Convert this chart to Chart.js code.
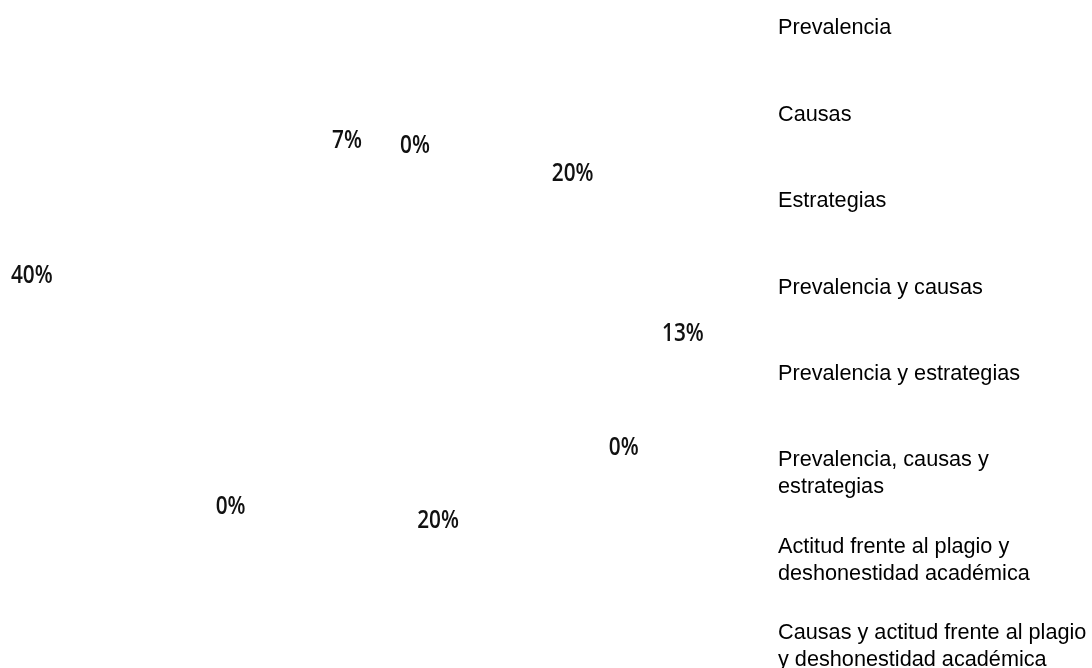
<!DOCTYPE html>
<html>
<head>
<meta charset="utf-8">
<script src="https://cdn.jsdelivr.net/npm/chart.js@4.4.0/dist/chart.umd.min.js"></script>
<style>
  html, body { margin: 0; padding: 0; background: #fff; }
  #wrap { position: relative; width: 1092px; height: 668px; }
</style>
</head>
<body>
<div id="wrap"><canvas id="myChart"></canvas></div>
<script>
const categories = [
    'Prevalencia',
    'Causas',
    'Estrategias',
    'Prevalencia y causas',
    'Prevalencia y estrategias',
    ['Prevalencia, causas y', 'estrategias'],
    ['Actitud frente al plagio y', 'deshonestidad académica'],
    ['Causas y actitud frente al plagio', 'y deshonestidad académica'],
  ];
// number of studies per topic (7%, 0%, 20%, 13%, 0%, 20%, 0%, 40%)
const counts = [1, 0, 3, 2, 0, 3, 0, 6];

// label placement, per slice: radius factor and angle nudge (deg)
const labelSpots = [
    {r: 0.587, a: -21.7},
    {r: 0.575, a: -13.5},
    {r: 0.751, a: -9.8},
    {r: 0.907, a: -30},
    {r: 0.805, a: -29},
    {r: 0.584, a: -17.3},
    {r: 0.683, a: 4.9},
    {r: 1.057, a: -8.5},
  ];

const pctLabels = {
    id: 'pctLabels',
    afterDatasetsDraw(chart) {
        const ctx = chart.ctx;
        const meta = chart.getDatasetMeta(0);
        const vals = chart.data.datasets[0].data;
        const total = vals.reduce((s, v) => s + v, 0);
        ctx.save();
        ctx.fillStyle = '#111';
        ctx.font = '600 26px "Open Sans", "Liberation Sans", sans-serif';
        ctx.textAlign = 'center';
        ctx.textBaseline = 'middle';
        meta.data.forEach((arc, i) => {
            const p = arc.getProps(['x', 'y', 'startAngle', 'endAngle', 'outerRadius'], true);
            const mid = (p.startAngle + p.endAngle) / 2 + labelSpots[i].a * Math.PI / 180;
            const rr = p.outerRadius * labelSpots[i].r;
            const txt = Math.round(vals[i] / total * 100) + '%';
            const lx = p.x + Math.cos(mid) * rr;
            const ly = p.y + Math.sin(mid) * rr;
            // narrow look, like the original condensed face
            ctx.save();
            ctx.translate(lx, ly);
            ctx.scale(0.8, 1);
            ctx.fillText(txt, 0, 0);
            ctx.restore();
        });
        ctx.restore();
    }
};

const sideLegend = {
    id: 'sideLegend',
    afterDraw(chart) {
        const ctx = chart.ctx;
        ctx.save();
        ctx.fillStyle = '#000';
        ctx.font = '22px "Liberation Sans", Arial, sans-serif';
        ctx.textAlign = 'left';
        ctx.textBaseline = 'middle';
        chart.data.labels.forEach((lab, i) => {
            const lines = Array.isArray(lab) ? lab : [lab];
            lines.forEach((ln, j) => {
                ctx.save();
                ctx.translate(778, 28 + 86.4 * i + 27 * j);
                ctx.scale(0.985, 1.04);
                ctx.fillText(ln, 0, 0);
                ctx.restore();
            });
        });
        ctx.restore();
    }
};

const config = {
    type: 'pie',
    data: {
        labels: categories,
        datasets: [{
            data: counts,
            backgroundColor: '#ffffff',
            borderColor: '#ffffff',
            borderWidth: 0,
        }]
    },
    options: {
        responsive: true,
        maintainAspectRatio: false,
        animation: false,
        layout: { padding: { right: 332 } },
        plugins: {
            legend: { display: false },
            tooltip: { enabled: false },
        }
    },
    plugins: [pctLabels, sideLegend],
};

const myChart = new Chart(document.getElementById('myChart'), config);
</script>
</body>
</html>
